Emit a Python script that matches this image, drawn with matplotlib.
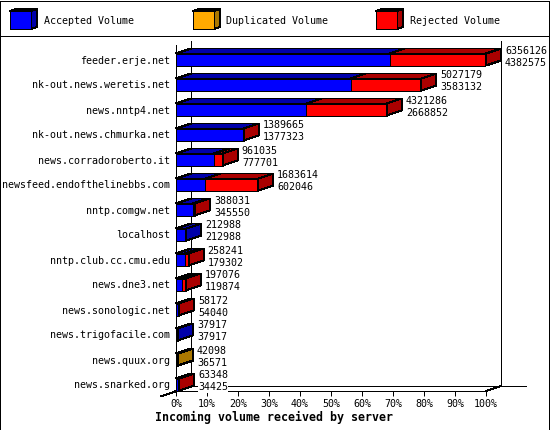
import matplotlib
matplotlib.use('Agg')
import matplotlib.pyplot as plt
from matplotlib.patches import Polygon, Rectangle

servers = ['feeder.erje.net', 'nk-out.news.weretis.net', 'news.nntp4.net',
           'nk-out.news.chmurka.net', 'news.corradoroberto.it',
           'newsfeed.endofthelinebbs.com', 'nntp.comgw.net', 'localhost',
           'nntp.club.cc.cmu.edu', 'news.dne3.net', 'news.sonologic.net',
           'news.trigofacile.com', 'news.quux.org', 'news.snarked.org']
accepted = [4382575, 3583132, 2668852, 1377323, 777701, 602046, 345550,
            212988, 179302, 119874, 54040, 37917, 36571, 34425]
duplicated = [0, 0, 0, 0, 0, 0, 0, 0, 0, 0, 0, 0, 5527, 0]
rejected = [1973551, 1444047, 1652434, 12342, 183334, 1081568, 42481,
            0, 78939, 77202, 4132, 0, 0, 28923]
pct_ticks = [0, 10, 20, 30, 40, 50, 60, 70, 80, 90, 100]
legend_names = ['Accepted Volume', 'Duplicated Volume', 'Rejected Volume']

W, H = 550, 430
LW = 0.72
FS = 7.2
plt.rcParams['text.antialiased'] = True
plt.rcParams['font.family'] = 'DejaVu Sans Mono'

colors = ['#0000ff', '#ffaa00', '#ff0000']
darks = ['#0000aa', '#aa7700', '#aa0000']

fig = plt.figure(figsize=(W / 100, H / 100), dpi=100)

# page furniture in pixel coordinates (half pixel shift so snapping lands on the right row)
bg = fig.add_axes([0, 0, 1, 1])
bg.set_xlim(0.5, W + 0.5)
bg.set_ylim(H - 0.5, -0.5)
bg.axis('off')


def line(ax, xs, ys, **kw):
    ax.plot(xs, ys, color='k', lw=LW, antialiased=False, solid_capstyle='butt',
            clip_on=False, **kw)


bg.add_patch(Rectangle((0.5, 0.5), W - 1, H - 1, fc='none', ec='k', lw=LW, antialiased=False))
line(bg, [0.5, W], [35.5, 35.5])

# legend
for x0, x_text, name, c, d in zip([10.5, 193.5, 376.5], [44, 227, 410.5], legend_names, colors, darks):
    bg.add_patch(Polygon([(x0 + 21, 10.5), (x0 + 27, 8.5), (x0 + 27, 26.5), (x0 + 21, 28.5)],
                         fc=d, ec='k', lw=LW, antialiased=False))
    bg.add_patch(Polygon([(x0, 10.5), (x0 + 6, 8.5), (x0 + 27, 8.5), (x0 + 21, 10.5)],
                         fc=d, ec='k', lw=LW, antialiased=False))
    bg.add_patch(Rectangle((x0, 10.5), 21, 18, fc=c, ec='k', lw=LW, antialiased=False))
    bg.text(x_text, 20, name, fontsize=FS, va='center', ha='left')

# walls of the 3d box
line(bg, [176.5, 176.5], [44, 390.5])
line(bg, [191.5, 191.5], [40, 385.5])
line(bg, [501.5, 501.5], [40, 385.5])
line(bg, [191.5, 526], [385.5, 385.5])
line(bg, [161, 191.5], [396, 385.5])
line(bg, [486.5, 501.5], [390.5, 385.5])
bg.text(274.5, 417, 'Incoming volume received by server', fontsize=8.4, fontweight='bold',
        va='center', ha='center')

# plot area: x in percent of the biggest server, y in rows
L, R, T, B = 176.5, 486.5, 40.5, 390.5
ROW0, STEP = 59.0, 25.0
ax = fig.add_axes([(L - 0.5) / W, 1 - (B + 0.5) / H, (R - L) / W, (B - T) / H])
ax.set_xlim(0, 100)
ax.set_ylim((B - ROW0) / STEP, (T - ROW0) / STEP)
ax.patch.set_visible(False)
for s in ['top', 'left', 'right']:
    ax.spines[s].set_visible(False)
ax.spines['bottom'].set_linewidth(LW)
ax.spines['bottom'].set_antialiased(False)

totals = [a + d + r for a, d, r in zip(accepted, duplicated, rejected)]
scale = 100.0 / max(totals)
dx = 15.0 * 100 / (R - L)   # depth in data units
dy = 5.0 / STEP
bar_h = 12.0 / STEP

for i, name in enumerate(servers):
    left = 0
    last = 0
    for vals, c, d in zip([accepted, duplicated, rejected], colors, darks):
        w = vals[i] * scale
        if vals[i] == 0:
            continue
        ax.barh(i, w, left=left, height=bar_h, color=c, edgecolor='k', linewidth=LW,
                antialiased=False, zorder=3)
        top = i - bar_h / 2
        ax.add_patch(Polygon([(left, top), (left + dx, top - dy), (left + w + dx, top - dy), (left + w, top)],
                             fc=d, ec='k', lw=LW, antialiased=False, clip_on=False, zorder=2))
        left += w
        last = d
    top = i - bar_h / 2
    ax.add_patch(Polygon([(left, top), (left + dx, top - dy), (left + dx, top - dy + bar_h), (left, top + bar_h)],
                         fc=last, ec='k', lw=LW, antialiased=False, clip_on=False, zorder=4))
    tx = left + dx + 4.0 * 100 / (R - L)
    ax.text(tx, i - 9 / STEP, str(totals[i]), fontsize=FS, va='center', ha='left', zorder=5,
            bbox=dict(fc='white', ec='none', pad=0.3))
    ax.text(tx, i + 3 / STEP, str(accepted[i]), fontsize=FS, va='center', ha='left', zorder=5,
            bbox=dict(fc='white', ec='none', pad=0.3))

ax.set_yticks(range(len(servers)))
ax.set_yticklabels(servers, fontsize=FS)
ax.tick_params(axis='y', length=0, pad=4.5)
ax.set_xticks(pct_ticks)
ax.set_xticklabels(['%d%%' % p for p in pct_ticks], fontsize=FS)
ax.tick_params(axis='x', length=3.6, width=LW, pad=2.5)
bg.set_zorder(0)
ax.set_zorder(1)

fig.savefig('out.png', dpi=100)
